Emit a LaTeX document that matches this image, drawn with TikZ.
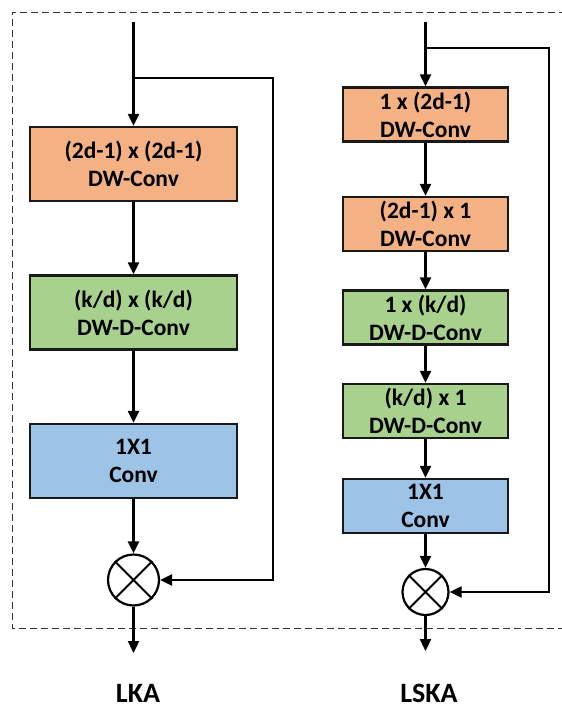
\documentclass[tikz,border=0pt]{standalone}
\usepackage{fontspec}
\setmainfont{Carlito}
\usetikzlibrary{arrows.meta}
\definecolor{convorange}{HTML}{F4B183}
\definecolor{convgreen}{HTML}{A9D18E}
\definecolor{convblue}{HTML}{9DC3E6}
\begin{document}
\begin{tikzpicture}[x=1pt,y=-1pt,
  blk/.style={draw=black!90, line width=2.4pt, align=center, inner sep=0pt,
    font=\bfseries\fontsize{23.5}{28}\selectfont},
  bigblk/.style={blk, minimum width=207pt, minimum height=74pt},
  smallblk/.style={blk, minimum width=165pt, minimum height=54pt},
  mult/.style={draw=black, line width=2.2pt, circle, inner sep=0pt},
  wire/.style={line width=2.3pt, black},
  arr/.style={wire, -{Triangle[length=12pt,width=11pt]}},
  frame/.style={line width=0.9pt, black!80, dash pattern=on 7pt off 4pt},
  caption/.style={font=\bfseries\fontsize{28}{30}\selectfont, anchor=base, inner sep=0pt}]
\useasboundingbox (0,0) rectangle (562,710);

% dashed outline around both modules (open on the right)
\draw[frame] (566,12) -- (12,12) -- (12,628) -- (566,628);

% ---------------- LKA ----------------
\coordinate (inL) at (133.5,22);
\coordinate (brL) at (133.5,78);
\coordinate (rtL) at (273,78);
\node[bigblk, fill=convorange] (l1) at (133.5,164) {(2d-1) x (2d-1)\\DW-Conv};
\node[bigblk, fill=convgreen]  (l2) at (133.5,312.5) {(k/d) x (k/d)\\DW-D-Conv};
\node[bigblk, fill=convblue]   (l3) at (133.5,461) {1X1\\Conv};
\node[mult, minimum size=51pt] (mL) at (133.5,580) {};
\draw[line width=2pt] (mL.45) -- (mL.225) (mL.135) -- (mL.315);
\coordinate (outL) at (133.5,653);

\draw[wire] (inL) -- (brL);
\draw[arr] (brL) -- (l1);
\draw[arr] (l1) -- (l2);
\draw[arr] (l2) -- (l3);
\draw[arr] (l3) -- (mL);
\draw[arr] (brL) -- (rtL) |- (mL);
\draw[arr] (mL) -- (outL);
\node[caption] (capL) at (138,702) {LKA};

% ---------------- LSKA ----------------
\coordinate (inR) at (425.5,22);
\coordinate (brR) at (425.5,48);
\coordinate (rtR) at (549,48);
\node[smallblk, fill=convorange] (r1) at (425.5,114.5) {1 x (2d-1)\\DW-Conv};
\node[smallblk, fill=convorange] (r2) at (425.5,224) {(2d-1) x 1\\DW-Conv};
\node[smallblk, fill=convgreen]  (r3) at (425.5,317.5) {1 x (k/d)\\DW-D-Conv};
\node[smallblk, fill=convgreen]  (r4) at (425.5,411) {(k/d) x 1\\DW-D-Conv};
\node[smallblk, fill=convblue]   (r5) at (425.5,506) {1X1\\Conv};
\node[mult, minimum size=46pt] (mR) at (425.5,592) {};
\draw[line width=2pt] (mR.45) -- (mR.225) (mR.135) -- (mR.315);
\coordinate (outR) at (425.5,651);

\draw[wire] (inR) -- (brR);
\draw[arr] (brR) -- (r1);
\draw[arr] (r1) -- (r2);
\draw[arr] (r2) -- (r3);
\draw[arr] (r3) -- (r4);
\draw[arr] (r4) -- (r5);
\draw[arr] (r5) -- (mR);
\draw[arr] (brR) -- (rtR) |- (mR);
\draw[arr] (mR) -- (outR);
\node[caption] (capR) at (429,702) {LSKA};
\end{tikzpicture}
\end{document}
